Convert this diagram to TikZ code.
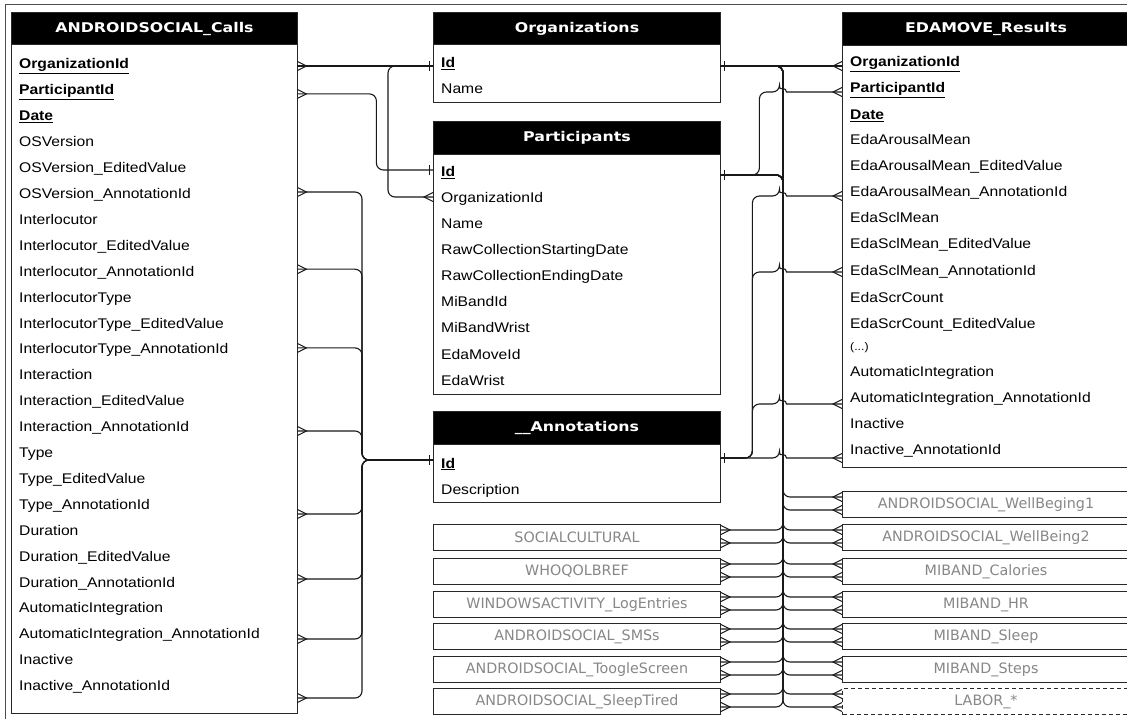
\documentclass[tikz,border=0pt]{standalone}
\usepackage{fontspec}
\newfontfamily\fieldfont{Liberation Sans}[FakeStretch=1.12]
\newfontfamily\headfont{DejaVu Sans}[FakeStretch=1.18]
\newfontfamily\reffont{DejaVu Sans}
\definecolor{refgray}{RGB}{135,135,135}
\definecolor{edge}{RGB}{40,40,40}
\newcommand{\keyfld}[1]{\underline{\bfseries #1}}

\begin{document}
\begin{tikzpicture}[x=1pt, y=-1pt,
  tblhead/.style={fill=black, draw=edge, line width=1pt, text=white, inner sep=0pt,
    anchor=north west, font=\headfont\bfseries\fontsize{13.4}{15}\selectfont},
  tblbody/.style={fill=white, draw=edge, line width=1pt, inner sep=0pt, anchor=north west},
  fld/.style={anchor=west, inner xsep=8pt, inner ysep=0pt, text height=10pt, text depth=0pt,
    text width=271pt, align=left, font=\fieldfont\fontsize{14}{16}\selectfont},
  refbox/.style={draw=edge, line width=1pt, fill=white, minimum width=287pt, minimum height=26pt,
    inner sep=0pt, anchor=north west, text=refgray, font=\reffont\fontsize{14.3}{16}\selectfont},
  conn/.style={draw=black!90, line width=1.1pt, rounded corners=7pt},
  many/.pic={\draw[black!90, line width=1pt] (0,-4.5) -- (9,0) -- (0,4.5);},
  one/.pic={\draw[black!90, line width=1pt] (4,-5) -- (4,5);},
]
\useasboundingbox (0,0) rectangle (1127,719);
\clip (0,0) rectangle (1127,719);
\fill[white] (0,0) rectangle (1127,719);
% outer frame
\draw[black!70, line width=1.2pt] (5.5,725) -- (5.5,4.5) -- (1135,4.5);

% ---------- ANDROIDSOCIAL_Calls ----------
\node[tblbody, minimum width=286pt, minimum height=669pt] (calls) at (11,44) {};
\node[tblhead, minimum width=286pt, minimum height=32pt] (calls-h) at (11,12) {ANDROIDSOCIAL\_Calls};
\foreach \t [count=\i from 0] in {\keyfld{OrganizationId}, \keyfld{ParticipantId}, \keyfld{Date},
  OSVersion, OSVersion\_EditedValue, OSVersion\_AnnotationId,
  Interlocutor, Interlocutor\_EditedValue, Interlocutor\_AnnotationId,
  InterlocutorType, InterlocutorType\_EditedValue, InterlocutorType\_AnnotationId,
  Interaction, Interaction\_EditedValue, Interaction\_AnnotationId,
  Type, Type\_EditedValue, Type\_AnnotationId,
  Duration, Duration\_EditedValue, Duration\_AnnotationId,
  AutomaticIntegration, AutomaticIntegration\_AnnotationId,
  Inactive, Inactive\_AnnotationId}
  \node[fld, text width=270pt] (c\i) at (11,{64+25.9*\i}) {\t};

% ---------- Organizations ----------
\node[tblbody, minimum width=287pt, minimum height=58pt] (orgs) at (433,44) {};
\node[tblhead, minimum width=287pt, minimum height=32pt] (orgs-h) at (433,12) {Organizations};
\node[fld] (o0) at (433,63) {\keyfld{Id}};
\node[fld] (o1) at (433,89) {Name};

% ---------- Participants ----------
\node[tblbody, minimum width=287pt, minimum height=240pt] (parts) at (433,154) {};
\node[tblhead, minimum width=287pt, minimum height=33pt] (parts-h) at (433,121) {Participants};
\foreach \t [count=\i from 0] in {\keyfld{Id}, OrganizationId, Name, RawCollectionStartingDate,
  RawCollectionEndingDate, MiBandId, MiBandWrist, EdaMoveId, EdaWrist}
  \node[fld] (p\i) at (433,{172+26*\i}) {\t};

% ---------- __Annotations ----------
\node[tblbody, minimum width=287pt, minimum height=58pt] (annos) at (433,444) {};
\node[tblhead, minimum width=287pt, minimum height=33pt] (annos-h) at (433,411) {\_\_Annotations};
\node[fld] (a0) at (433,463) {\keyfld{Id}};
\node[fld] (a1) at (433,489) {Description};

% ---------- EDAMOVE_Results ----------
\node[tblbody, minimum width=287pt, minimum height=422pt] (eda) at (842,45) {};
\node[tblhead, minimum width=287pt, minimum height=33pt] (eda-h) at (842,12) {EDAMOVE\_Results};
\foreach \y/\t [count=\i from 0] in {62/\keyfld{OrganizationId}, 88/\keyfld{ParticipantId},
  115/\keyfld{Date}, 140/EdaArousalMean, 166/EdaArousalMean\_EditedValue,
  192/EdaArousalMean\_AnnotationId, 218/EdaSclMean, 244/EdaSclMean\_EditedValue,
  271/EdaSclMean\_AnnotationId, 297/EdaScrCount, 323/EdaScrCount\_EditedValue,
  345/{\fontsize{11}{12}\selectfont(...)}, 371/AutomaticIntegration,
  397/AutomaticIntegration\_AnnotationId, 423/Inactive, 449/Inactive\_AnnotationId}
  \node[fld] (e\i) at (842,\y) {\t};

% ---------- referencing tables ----------
\foreach \y/\t [count=\i] in {524/SOCIALCULTURAL, 558/WHOQOLBREF,
  591/WINDOWSACTIVITY\_LogEntries, 623/ANDROIDSOCIAL\_SMSs,
  656/ANDROIDSOCIAL\_ToogleScreen, 688/ANDROIDSOCIAL\_SleepTired}
  \node[refbox] (l\i) at (433,\y) {\t};
\foreach \y/\t [count=\i] in {491/ANDROIDSOCIAL\_WellBeging1, 524/ANDROIDSOCIAL\_WellBeing2,
  558/MIBAND\_Calories, 591/MIBAND\_HR, 623/MIBAND\_Sleep, 656/MIBAND\_Steps}
  \node[refbox] (r\i) at (842,\y) {\t};
\node[refbox, dashed, dash pattern=on 4pt off 3pt] (r7) at (842,688) {LABOR\_*};

% ---------- ports and routing points ----------
\coordinate (c0p) at ([yshift=-2pt]c0.east);
\coordinate (c1p) at ([yshift=-4pt]c1.east);
\coordinate (o0w) at ([yshift=-3pt]o0.west);
\coordinate (o0e) at ([yshift=-3pt]o0.east);
\coordinate (p0w) at ([yshift=2pt]p0.west);
\coordinate (p0e) at ([yshift=-3pt]p0.east);
\coordinate (p1w) at ([yshift=1pt]p1.west);
\coordinate (a0w) at ([yshift=3pt]a0.west);
\coordinate (a0e) at ([yshift=5pt]a0.east);
\coordinate (e0p) at ([yshift=-4pt]e0.west);
\coordinate (e1p) at ([yshift=-4pt]e1.west);
\coordinate (e15p) at ([yshift=-9pt]e15.west);
\coordinate (abus) at (362,460);
\coordinate (bus) at (783,0);
\coordinate (jb) at (779.5,0);

% ---------- ANDROIDSOCIAL_Calls -> Organizations / Participants ----------
\draw[conn] (c0p) -- (o0w);
\draw[conn] (c1p) -- ++(79,0) |- (p0w);
\draw[conn] (o0w) -- ++(-45,0) |- (p1w);
\pic at (c0p) {many};
\pic at (c1p) {many};
\pic[rotate=180] at (p1w) {many};

% ---------- ANDROIDSOCIAL_Calls -> __Annotations ----------
\foreach \r/\d in {5/1.5, 8/2, 11/1, 14/-4.4, 17/-9.7, 20/3, 22/-5.2, 24/-12.4} {
  \draw[conn] ([yshift=\d pt]c\r.east) -| (abus) -- (a0w);
  \pic at ([yshift=\d pt]c\r.east) {many};
}

% ---------- Organizations / Participants -> EDAMOVE_Results ----------
\draw[conn] (o0e) -- (e0p);
\draw[conn] (p0e) -- ++(39,0) |- (jb |- e1p) [sharp corners]
  arc[start angle=180, end angle=0, radius=3.5pt] -- (e1p);
\pic[rotate=180] at (e0p) {many};
\pic[rotate=180] at (e1p) {many};

% ---------- __Annotations -> EDAMOVE_Results ----------
\foreach \r/\d in {5/-4, 8/-1, 13/-7} {
  \coordinate (ep) at ([yshift=\d pt]e\r.west);
  \draw[conn] (a0e) -- ++(32,0) |- (jb |- ep) [sharp corners]
    arc[start angle=180, end angle=0, radius=3.5pt] -- (ep);
  \pic[rotate=180] at (ep) {many};
}
\draw[conn] (a0e) -- (jb |- e15p) [sharp corners]
  arc[start angle=180, end angle=0, radius=3.5pt] -- (e15p);
\pic[rotate=180] at (e15p) {many};

% ---------- Organizations / Participants -> referencing tables ----------
\foreach \i in {1,...,6} {
  \coordinate (lo) at ([yshift=-6pt]l\i.north east);
  \coordinate (lp) at ([yshift=-19pt]l\i.north east);
  \draw[conn] (o0e) -| (bus |- lo) -- (lo);
  \draw[conn] (p0e) -| (bus |- lp) -- (lp);
  \pic at (lo) {many};
  \pic at (lp) {many};
}
\foreach \i in {1,...,7} {
  \coordinate (ro) at ([yshift=-6pt]r\i.north west);
  \coordinate (rp) at ([yshift=-19pt]r\i.north west);
  \draw[conn] (o0e) -| (bus |- ro) -- (ro);
  \draw[conn] (p0e) -| (bus |- rp) -- (rp);
  \pic[rotate=180] at (ro) {many};
  \pic[rotate=180] at (rp) {many};
}

% ---------- one-side ticks ----------
\pic[rotate=180] at (o0w) {one};
\pic[rotate=180] at (p0w) {one};
\pic[rotate=180] at (a0w) {one};
\pic at (o0e) {one};
\pic at (p0e) {one};
\pic at (a0e) {one};
\end{tikzpicture}
\end{document}
